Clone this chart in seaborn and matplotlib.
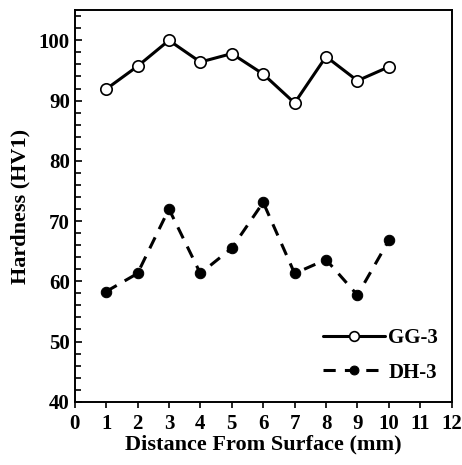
import numpy as np
import pandas as pd
import seaborn as sns
import matplotlib.pyplot as plt
from matplotlib.ticker import MultipleLocator

distance = [1, 2, 3, 4, 5, 6, 7, 8, 9, 10]
gg3 = [91.9, 95.7, 100.0, 96.4, 97.8, 94.4, 89.6, 97.3, 93.3, 95.6]
dh3 = [58.3, 61.3, 72.0, 61.3, 65.5, 73.1, 61.3, 63.6, 57.7, 66.8]

sns.set_style("ticks")
plt.rcParams['font.family'] = ['Liberation Serif', 'DejaVu Serif']
plt.rcParams['font.weight'] = 'bold'
for k in ['text.color', 'axes.labelcolor', 'xtick.color', 'ytick.color']:
    plt.rcParams[k] = 'black'

fig = plt.figure(figsize=(4.62, 4.65), dpi=100)
ax = fig.add_axes([0.1617, 0.136, 0.816, 0.842])

df = pd.DataFrame({'x': distance, 'GG-3': gg3, 'DH-3': dh3})

sns.lineplot(data=df, x='x', y='GG-3', ax=ax, color='black', lw=2.2,
             marker='o', markersize=8.2, markerfacecolor='white',
             markeredgecolor='black', markeredgewidth=1.2, label='GG-3')
sns.lineplot(data=df, x='x', y='DH-3', ax=ax, color='black', lw=2.2,
             linestyle=(0, (4, 3)), marker='o', markersize=7.5,
             markerfacecolor='black', markeredgecolor='black', label='DH-3')

ax.set_xlim(0, 12)
ax.set_ylim(40, 105)
ax.xaxis.set_major_locator(MultipleLocator(1))
ax.yaxis.set_major_locator(MultipleLocator(10))
ax.yaxis.set_minor_locator(MultipleLocator(2))
ax.tick_params(axis='x', direction='out', length=4, width=1.2, labelsize=15, pad=5)
ax.tick_params(axis='y', which='both', direction='in', width=1.2, labelsize=15)
ax.tick_params(axis='y', which='major', length=5)
ax.tick_params(axis='y', which='minor', length=4)
for lab in ax.get_xticklabels() + ax.get_yticklabels():
    lab.set_fontweight('bold')
for s in ax.spines.values():
    s.set_linewidth(1.4)
    s.set_color('black')

ax.set_xlabel('Distance From Surface (mm)', fontsize=16, fontweight='bold', labelpad=0)
ax.set_ylabel('Hardness (HV1)', fontsize=16, fontweight='bold', labelpad=6)

ax.legend(loc='lower right', bbox_to_anchor=(1.0, 0.014), frameon=False,
          handlelength=3.0, markerscale=0.85,
          labelspacing=0.7, handletextpad=0.15, borderaxespad=0.25,
          prop={'weight': 'bold', 'size': 15})

fig.savefig('out.png', dpi=100)
